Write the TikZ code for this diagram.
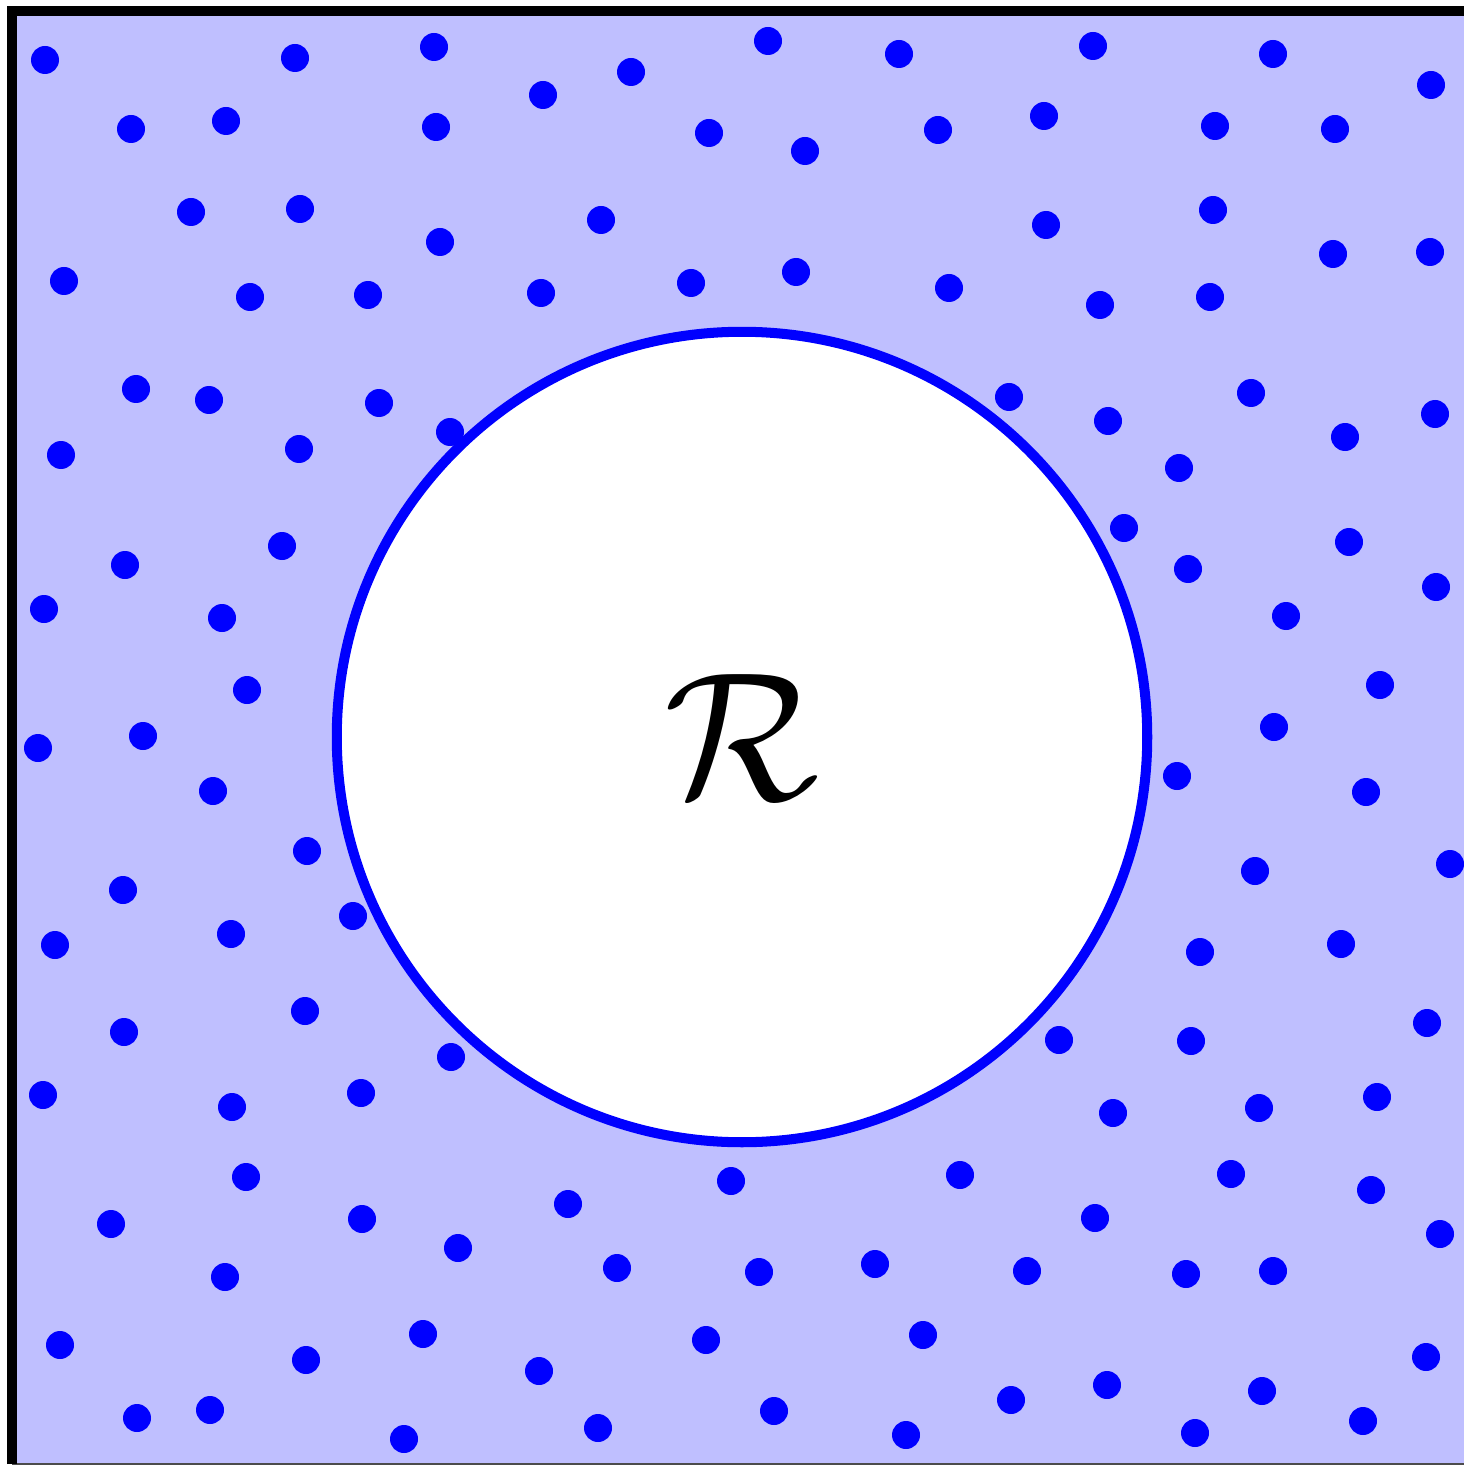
\documentclass[tikz,border=0pt]{standalone}
\usepackage{amsmath,amssymb}
\usepackage{xcolor}
\usepackage{tikz}

\begin{document}
\begin{tikzpicture}[
    x=0.01cm, y=-0.01cm,
    domainfill/.style={fill=blue!25},
    frameline/.style={draw=black, line width=2.6pt},
    dot/.style={fill=blue},
    region/.style={circle, draw=blue, fill=white, line width=2.85pt, minimum size=8.1cm, inner sep=0pt}
]
\useasboundingbox (0,0) rectangle (1464,1467);
\clip (0,0) rectangle (1464,1467);

% Domain with frame
\fill[domainfill] (12,11) rectangle (1480,1464);
\draw[black!70, line width=0.5pt] (12,1464) -- (1480,1464);
\draw[frameline] (12,1464) -- (12,11) -- (1480,11);

% Scattered points
\foreach \px/\py in {45/60, 295/58, 434/47, 543/95, 631/72, 768/41, 899/54, 1093/46, 1273/54, 1431/85,
    131/129, 226/121, 436/127, 709/133, 805/151, 938/130, 1044/116, 1215/126, 1335/129,
    191/212, 300/209, 440/242, 601/220, 1046/225, 1213/210, 1333/254, 1430/252,
    64/281, 250/297, 368/295, 541/293, 691/283, 796/272, 949/288, 1100/305, 1210/297,
    136/389, 209/400, 379/403, 450/432, 1009/397, 1251/393, 1108/421, 1345/437, 1435/414,
    61/455, 299/449, 1179/468,
    282/546, 125/565, 1124/528, 1349/542, 1188/569,
    44/609, 222/618, 1286/616, 1436/587,
    247/690, 1380/685,
    38/748, 143/736, 1274/727,
    213/791, 1177/776, 1366/792,
    307/851, 1450/864, 1255/871,
    123/890, 353/916,
    55/945, 231/934, 1200/952, 1341/944,
    305/1011, 124/1032, 1059/1040, 1191/1041, 1427/1023,
    451/1057,
    43/1095, 361/1093, 232/1107, 1113/1113, 1259/1108, 1377/1097,
    246/1177, 731/1181, 960/1175, 1231/1174, 1371/1190,
    111/1224, 362/1219, 568/1204, 1095/1218, 1440/1234,
    458/1248,
    225/1277, 617/1268, 759/1272, 875/1264, 1027/1271, 1186/1274, 1273/1271,
    60/1345, 423/1334, 706/1340, 923/1335, 306/1360, 539/1371,
    1426/1357, 1107/1385, 1262/1391, 1011/1400,
    137/1418, 210/1410, 404/1439, 598/1428, 774/1411, 906/1435, 1195/1433, 1363/1421}
    \fill[dot] (\px,\py) circle (14);

% Excluded region
\node[region] (R) at (742,737) {\scalebox{5.2}{$\mathcal{R}$}};
\end{tikzpicture}
\end{document}
